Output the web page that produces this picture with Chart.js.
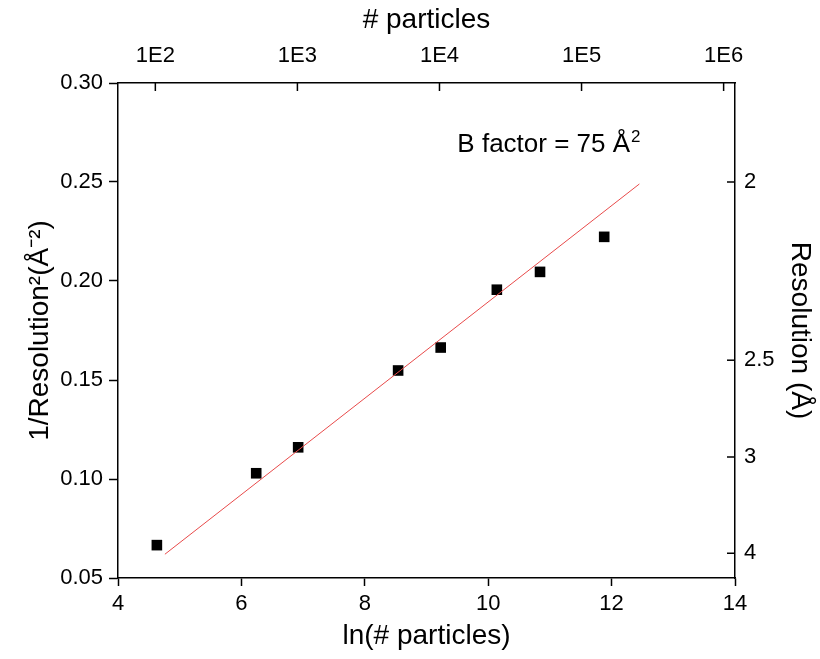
<!DOCTYPE html>
<html>
<head>
<meta charset="utf-8">
<script src="https://cdn.jsdelivr.net/npm/chart.js@4"></script>
<style>
  body { margin: 0; background: #fff; }
  canvas { display: block; }
</style>
</head>
<body>
<canvas id="bfactorChart" width="820" height="659"></canvas>
<script>
// measured points: ln(# particles) vs 1/resolution^2
const lnParticles = [4.63, 6.24, 6.92, 8.54, 9.23, 10.14, 10.84, 11.88];
const invResSq = [0.0666, 0.1029, 0.116, 0.1548, 0.1664, 0.1956, 0.2046, 0.2223];

// B factor fit line (end points)
const fitX = [4.76, 12.45];
const fitY = [0.062, 0.249];

// top axis: particle counts
const particleCounts = [1e2, 1e3, 1e4, 1e5, 1e6];
const particleLabels = ["1E2", "1E3", "1E4", "1E5", "1E6"];

// right axis: resolution in Å
const resolutionTicks = [2, 2.5, 3, 4];
const resolutionLabels = ["2", "2.5", "3", "4"];

const FONT = "'Liberation Sans', Arial, sans-serif";
const tickFont = { family: FONT, size: 22 };
const titleFont = { family: FONT, size: 28 };

const ctx = document.getElementById("bfactorChart");

// tick marks that point into the plot for top and right axes
const innerTicks = {
    id: "innerTicks",
    afterDraw(chart) {
        const c = chart.ctx;
        const area = chart.chartArea;
        c.save();
        c.strokeStyle = "#000";
        c.lineWidth = 1.5;
        chart.scales.x2.ticks.forEach(t => {
            const px = chart.scales.x2.getPixelForValue(t.value);
            c.beginPath();
            c.moveTo(px, area.top);
            c.lineTo(px, area.top + 8);
            c.stroke();
        });
        chart.scales.y2.ticks.forEach(t => {
            const py = chart.scales.y2.getPixelForValue(t.value);
            c.beginPath();
            c.moveTo(area.right, py);
            c.lineTo(area.right - 8, py);
            c.stroke();
        });

        // annotation
        const tx = chart.scales.x.getPixelForValue(9.5);
        const ty = chart.scales.y.getPixelForValue(0.265);
        c.fillStyle = "#000";
        c.textBaseline = "alphabetic";
        c.textAlign = "left";
        c.font = "26px " + FONT;
        const main = "B factor = 75 Å";
        c.fillText(main, tx, ty);
        const w = c.measureText(main).width;
        c.font = "17px " + FONT;
        c.fillText("2", tx + w + 1, ty - 10);
        c.restore();
    }
};

const chart = new Chart(ctx, {
    type: "scatter",
    data: {
        datasets: [
            {
                label: "fit",
                data: fitX.map((x, i) => ({ x: x, y: fitY[i] })),
                showLine: true,
                borderColor: "#e84a4a",
                borderWidth: 1,
                pointRadius: 0,
                xAxisID: "x",
                yAxisID: "y"
            },
            {
                label: "data",
                data: lnParticles.map((x, i) => ({ x: x, y: invResSq[i] })),
                pointStyle: "rect",
                pointRadius: 7.5,
                backgroundColor: "#000",
                borderColor: "#000",
                borderWidth: 0,
                xAxisID: "x",
                yAxisID: "y"
            }
        ]
    },
    options: {
        responsive: false,
        animation: false,
        plugins: {
            legend: { display: false },
            tooltip: { enabled: false }
        },
        layout: { padding: 0 },
        scales: {
            x: {
                type: "linear",
                position: "bottom",
                min: 4,
                max: 14,
                afterFit(scale) { scale.height = 81; },
                ticks: { stepSize: 2, color: "#000", font: tickFont, padding: 5 },
                grid: { drawOnChartArea: false, drawTicks: true, tickLength: 8, tickColor: "#000", tickWidth: 1.5 },
                border: { color: "#000", width: 1.5 },
                title: { display: true, text: "ln(# particles)", color: "#000", font: titleFont, padding: { top: 0, bottom: 6 } }
            },
            x2: {
                type: "linear",
                position: "top",
                min: 4,
                max: 14,
                afterFit(scale) { scale.height = 83; },
                afterBuildTicks(scale) {
                    scale.ticks = particleCounts.map(n => ({ value: Math.log(n) }));
                },
                ticks: {
                    autoSkip: false,
                    color: "#000",
                    font: tickFont,
                    padding: 14,
                    maxRotation: 0,
                    callback: (v, i) => particleLabels[i]
                },
                grid: { drawOnChartArea: false, drawTicks: false },
                border: { color: "#000", width: 1.5 },
                title: { display: true, text: "# particles", color: "#000", font: titleFont, padding: { top: 3, bottom: 0 } }
            },
            y: {
                type: "linear",
                position: "left",
                min: 0.05,
                max: 0.30,
                afterFit(scale) { scale.width = 118; },
                ticks: {
                    stepSize: 0.05,
                    color: "#000",
                    font: tickFont,
                    padding: 6,
                    callback: v => v.toFixed(2)
                },
                grid: { drawOnChartArea: false, drawTicks: true, tickLength: 9, tickColor: "#000", tickWidth: 1.5 },
                border: { color: "#000", width: 1.5 },
                title: { display: true, text: "1/Resolution²(Å⁻²)", color: "#000", font: titleFont, padding: { top: 23, bottom: 0 } }
            },
            y2: {
                type: "linear",
                position: "right",
                min: 0.05,
                max: 0.30,
                afterFit(scale) { scale.width = 85; },
                afterBuildTicks(scale) {
                    scale.ticks = resolutionTicks.map(r => ({ value: 1 / (r * r) }));
                },
                ticks: {
                    autoSkip: false,
                    color: "#000",
                    font: tickFont,
                    padding: 9,
                    callback: (v, i) => resolutionLabels[i]
                },
                grid: { drawOnChartArea: false, drawTicks: false },
                border: { color: "#000", width: 1.5 },
                title: { display: true, text: "Resolution (Å)", color: "#000", font: titleFont, padding: { top: 3, bottom: 0 } }
            }
        }
    },
    plugins: [innerTicks]
});
</script>
</body>
</html>
